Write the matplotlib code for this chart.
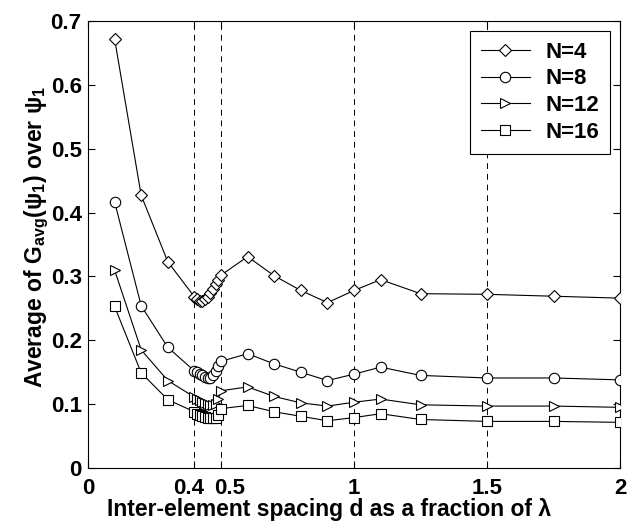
import numpy as np
import matplotlib
matplotlib.use("Agg")
import matplotlib.pyplot as plt
import matplotlib.transforms as mtransforms

plt.rcParams['font.family'] = ['Liberation Sans', 'DejaVu Sans']
plt.rcParams['font.weight'] = 'bold'
plt.rcParams['mathtext.fontset'] = 'custom'
plt.rcParams['mathtext.rm'] = 'Liberation Sans:bold'
plt.rcParams['mathtext.it'] = 'Liberation Sans:bold'
plt.rcParams['mathtext.default'] = 'rm'

# spacing d / lambda
d = [0.1, 0.2, 0.3,
     0.40, 0.41, 0.42, 0.43, 0.44, 0.45, 0.46, 0.47, 0.48, 0.49, 0.50,
     0.6, 0.7, 0.8, 0.9, 1.0, 1.1, 1.25, 1.5, 1.75, 2.0]

g_n4 = [0.672, 0.427, 0.323,
        0.268, 0.264, 0.262, 0.261, 0.264, 0.268, 0.274, 0.281, 0.288, 0.295, 0.302,
        0.331, 0.301, 0.278, 0.259, 0.278, 0.295, 0.273, 0.272, 0.269, 0.266]
g_n8 = [0.417, 0.254, 0.189,
        0.152, 0.150, 0.148, 0.145, 0.143, 0.141, 0.141, 0.145, 0.152, 0.160, 0.167,
        0.179, 0.163, 0.150, 0.137, 0.147, 0.158, 0.145, 0.141, 0.141, 0.138]
g_n12 = [0.310, 0.185, 0.137,
         0.111, 0.108, 0.106, 0.104, 0.102, 0.100, 0.099, 0.099, 0.101, 0.108, 0.121,
         0.127, 0.112, 0.102, 0.097, 0.103, 0.108, 0.099, 0.097, 0.097, 0.095]
g_n16 = [0.253, 0.149, 0.107,
         0.088, 0.085, 0.083, 0.081, 0.080, 0.079, 0.078, 0.078, 0.079, 0.083, 0.093,
         0.098, 0.088, 0.081, 0.074, 0.079, 0.085, 0.076, 0.073, 0.073, 0.0715]

labels = ["N=4", "N=8", "N=12", "N=16"]
markers = ["D", "o", ">", "s"]
msizes = [6.5, 7.5, 7.5, 7.5]
vlines = [0.4, 0.5, 1.0, 1.5]
xticks = [0, 0.4, 0.5, 1, 1.5, 2]
xticklabels = ["0", "0.4", "0.5", "1", "1.5", "2"]

fig = plt.figure(figsize=(6.32, 5.21), dpi=100)
ax = fig.add_axes([0.1392, 0.1017, 0.842, 0.858])

for xv in vlines:
    ax.axvline(xv, color="k", ls=(0, (6, 5)), lw=0.7, zorder=1)

for y, lab, m, ms in zip([g_n4, g_n8, g_n12, g_n16], labels, markers, msizes):
    ax.plot(d, y, color="k", lw=0.8, marker=m, ms=ms, mfc="white",
            mec="k", mew=0.8, label=lab, zorder=3)

ax.set_xlim(0, 2)
ax.set_ylim(0, 0.7)
ax.set_xticks(xticks)
ax.set_xticklabels(xticklabels)
ax.set_yticks(np.arange(0, 0.71, 0.1))
ax.set_yticklabels(["0", "0.1", "0.2", "0.3", "0.4", "0.5", "0.6", "0.7"])
ax.tick_params(direction="in", top=True, right=True, labelsize=16, length=5, width=0.8)
ax.tick_params(axis="x", pad=7)
ax.tick_params(axis="y", pad=4.5)

# nudge the crowded 0.4 / 0.5 labels apart
tl = ax.get_xticklabels()
tl[1].set_transform(tl[1].get_transform() +
                    mtransforms.ScaledTranslation(-6 / 100, 0, fig.dpi_scale_trans))
tl[2].set_transform(tl[2].get_transform() +
                    mtransforms.ScaledTranslation(9 / 100, 0, fig.dpi_scale_trans))

ax.set_xlabel("Inter-element spacing d as a fraction of λ", fontsize=16.5,
              fontweight="bold")
ax.xaxis.set_label_coords(0.453, -0.066)
ax.set_ylabel(r"Average of G$_{avg}$(ψ$_1$) over ψ$_1$", fontsize=16.5,
              fontweight="bold")
ax.yaxis.set_label_coords(-0.069, 0.516)

leg = ax.legend(loc="upper right", fontsize=16, frameon=True, fancybox=False,
                edgecolor="k", framealpha=1, borderpad=0.5, handlelength=2.2,
                handletextpad=0.7, labelspacing=0.25, borderaxespad=0,
                bbox_to_anchor=(0.981, 0.978))
leg.get_frame().set_linewidth(0.8)

fig.savefig("out.png", dpi=100)
